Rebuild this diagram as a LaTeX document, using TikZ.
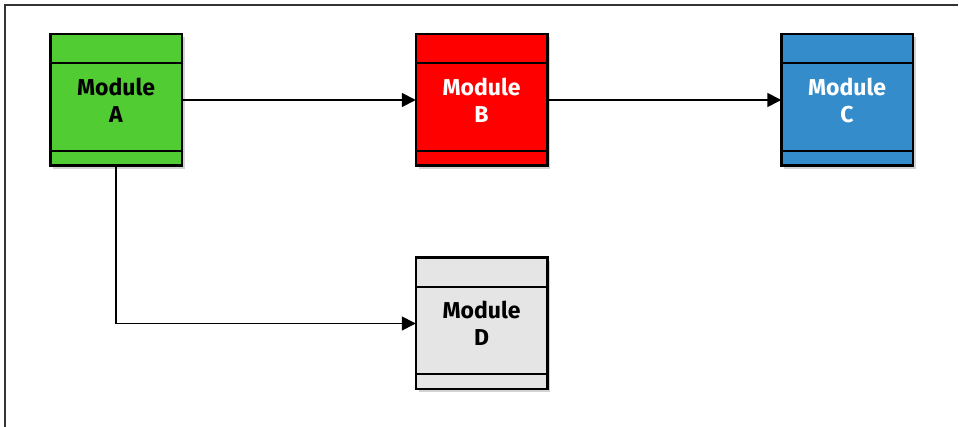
\documentclass[tikz,border=0pt]{standalone}
\usepackage{xcolor}
\usepackage{fontspec}
\setmainfont{Fira Sans}
\usetikzlibrary{arrows.meta,positioning,shadows}

\definecolor{modgreen}{HTML}{52CC33}
\definecolor{modred}{HTML}{FF0000}
\definecolor{modblue}{HTML}{358CCB}
\definecolor{modgray}{HTML}{E5E5E5}

\begin{document}
\begin{tikzpicture}[
  node distance=92pt and 234pt,
  mod/.style={draw,line width=2.5pt,outer sep=0pt,minimum width=131.5pt,minimum height=131.5pt,
    align=center,font=\bfseries\fontsize{23}{27}\selectfont,
    drop shadow={shadow xshift=3pt,shadow yshift=-3pt,opacity=0.35}},
  arr/.style={-{Triangle[length=14pt,width=14pt]},line width=1.8pt}
]
  \useasboundingbox (0,0) rectangle (959pt,-427pt);
  \draw[line width=1.5pt,black!80] (958pt,-5pt) -- (5pt,-5pt) -- (5pt,-427pt);

  \node[mod,fill=modgreen] (a) at (116pt,-100pt) {Module\\A};
  \node[mod,fill=modred,text=white, right=of a] (b) {Module\\B};
  \node[mod,fill=modblue,text=white, right=of b] (c) {Module\\C};
  \node[mod,fill=modgray, below=of b] (d) {Module\\D};

  \foreach \m in {a,b,c,d} {
    \draw[line width=2pt] ([yshift=-29pt]\m.north west) -- ([yshift=-29pt]\m.north east);
    \draw[line width=2pt] ([yshift=15pt]\m.south west) -- ([yshift=15pt]\m.south east);
  }

  \draw[arr] (a) -- (b);
  \draw[arr] (b) -- (c);
  \draw[arr] (a.south) |- (d.west);
\end{tikzpicture}
\end{document}
